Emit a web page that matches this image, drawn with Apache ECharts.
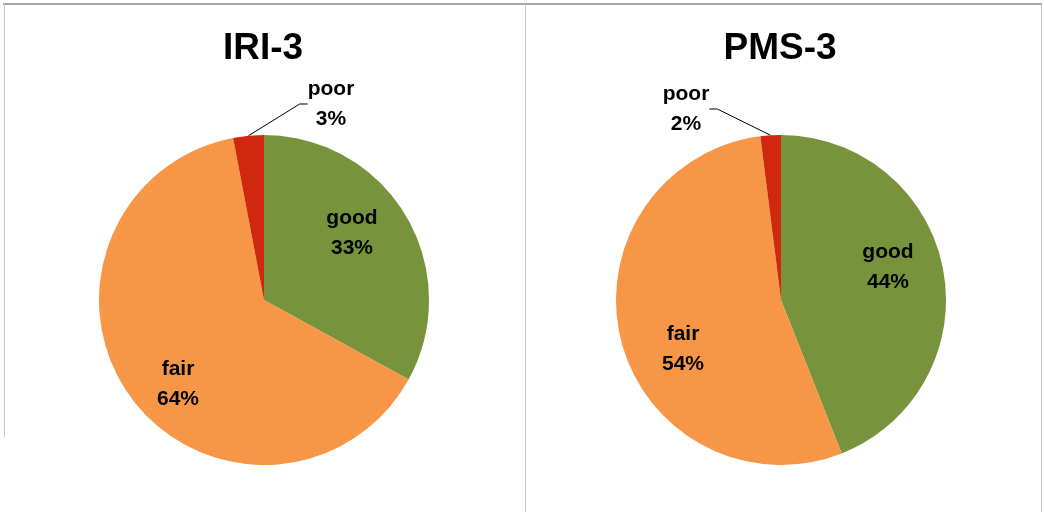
<!DOCTYPE html>
<html><head><meta charset="utf-8">
<script src="https://cdn.jsdelivr.net/npm/echarts@6/dist/echarts.min.js"></script>
<style>html,body{margin:0;padding:0;background:#fff}#c{width:1044px;height:512px}</style>
</head><body><div id="c"></div>
<script>
const categories = ['good', 'fair', 'poor'];
const chartTitles = ['IRI-3', 'PMS-3'];
const iriValues = [33, 64, 3];
const pmsValues = [44, 54, 2];

const colors = ['#77933C', '#F79646', '#D0280E'];
const pieCenters = [[264, 300], [781, 300]];
const labelPos = [
  [[352, 233], [178, 384], [331, 104]],
  [[888, 267], [683, 349], [686, 109]]
];

const font = 'Liberation Sans, Arial, sans-serif';

function pieSeries(values, si) {
  return {
    type: 'pie',
    center: pieCenters[si],
    radius: 165,
    startAngle: 90,
    clockwise: true,
    animation: false,
    silent: true,
    avoidLabelOverlap: false,
    data: categories.map((c, i) => ({
      name: c,
      value: values[i],
      itemStyle: { color: colors[i], borderWidth: 0 },
      label: { position: i === 2 ? 'outside' : 'inside' },
      labelLine: { show: i === 2 }
    })),
    label: {
      show: true,
      formatter: '{b}\n{c}%',
      fontFamily: font,
      fontWeight: 'bold',
      fontSize: 21,
      lineHeight: 30,
      color: '#000'
    },
    labelLine: { show: true, length: 20, length2: 8, lineStyle: { color: '#000', width: 1 } },
    labelLayout: function (p) {
      const q = labelPos[si][p.dataIndex];
      return { x: q[0], y: q[1], align: 'center', verticalAlign: 'middle' };
    }
  };
}

const chart = echarts.init(document.getElementById('c'), null, { renderer: 'canvas' });
chart.setOption({
  backgroundColor: '#fff',
  animation: false,
  title: chartTitles.map((t, i) => ({
    text: t,
    left: pieCenters[i][0] - 1,
    top: 30,
    textAlign: 'center',
    padding: 0,
    textStyle: { fontFamily: font, fontWeight: 'bold', fontSize: 37, color: '#000' }
  })),
  graphic: [
    { type: 'line', shape: { x1: 3, y1: 4, x2: 1042, y2: 4 }, style: { stroke: '#A6A6A6', lineWidth: 2 } },
    { type: 'line', shape: { x1: 4.5, y1: 4, x2: 4.5, y2: 437 }, style: { stroke: '#C8C8C8', lineWidth: 1 } },
    { type: 'line', shape: { x1: 525.5, y1: 4, x2: 525.5, y2: 512 }, style: { stroke: '#C8C8C8', lineWidth: 1 } },
    { type: 'line', shape: { x1: 1041.5, y1: 4, x2: 1041.5, y2: 512 }, style: { stroke: '#C8C8C8', lineWidth: 1 } }
  ],
  series: [pieSeries(iriValues, 0), pieSeries(pmsValues, 1)]
});
</script>
</body></html>
